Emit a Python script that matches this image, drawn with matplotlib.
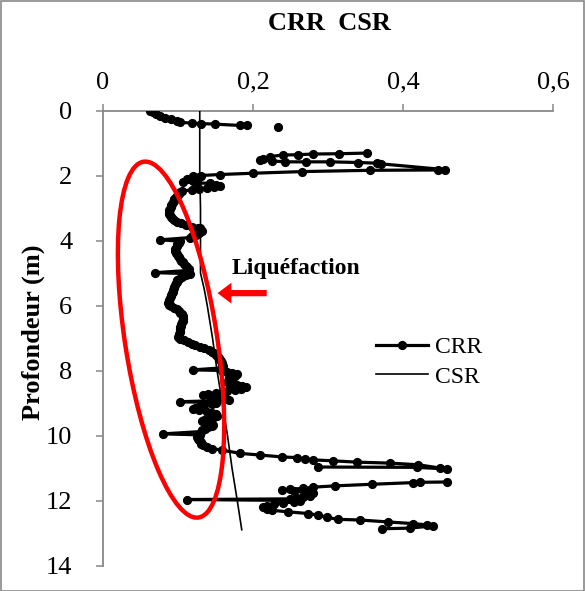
import numpy as np
import matplotlib
matplotlib.use("Agg")
import matplotlib.pyplot as plt
from matplotlib.patches import Ellipse, Rectangle

plt.rcParams['font.family'] = ['Liberation Serif', 'DejaVu Serif']

nan = np.nan
# CRR trace: values and depths (m); NaN marks gaps in the record
crr = [
    0.063, 0.066, 0.070, 0.076, 0.082, 0.090, 0.098, 0.103, 0.118, 0.130, 0.149, 0.183, 0.192,
    nan, 0.233, nan,
    0.352, 0.315, 0.280, 0.260, 0.240, 0.222, 0.213, 0.209, 0.225, 0.243, 0.270, 0.303, 0.340, 0.365, 0.370,
    0.456, 0.447, 0.356, 0.265, 0.200, 0.156,
    0.130, 0.120, 0.128, 0.118, 0.112, 0.120, 0.107, 0.125, 0.143, 0.150, 0.156, 0.148, 0.138, 0.128, 0.118,
    0.105, 0.103, 0.101, 0.099, 0.097, 0.095, 0.094, 0.093, 0.092, 0.091, 0.090, 0.089, 0.088, 0.088, 0.088,
    0.089, 0.090, 0.092, 0.095, 0.099, 0.104, 0.110, 0.118, 0.126,
    0.129, 0.131, 0.132, 0.128, 0.124, 0.119, 0.116, 0.076, 0.103, 0.101, 0.099, 0.098, 0.097, 0.096, 0.096,
    0.097, 0.099, 0.100, 0.101, 0.103, 0.104, 0.106, 0.108, 0.110, 0.112, 0.114, 0.115, 0.069, 0.116, 0.110,
    0.105, 0.101, 0.099, 0.098, 0.097, 0.096, 0.095, 0.094, 0.093, 0.093, 0.092, 0.091, 0.090, 0.089, 0.088,
    0.088, 0.087, 0.088, 0.091, 0.095, 0.099, 0.101, 0.103, 0.105, 0.106, 0.107, 0.107, 0.106, 0.105, 0.104,
    0.104, 0.103, 0.103, 0.102, 0.102, 0.101, 0.101, 0.100, 0.103, 0.108, 0.113, 0.118, 0.123, 0.129, 0.135,
    0.141, 0.145, 0.148, 0.151, 0.153, 0.155, 0.156, 0.157, 0.158, 0.159, 0.160, 0.158, 0.120,
    0.158, 0.165, 0.172, 0.178, 0.176, 0.171, 0.168, 0.172, 0.168, 0.165, 0.170, 0.178, 0.185, 0.190, 0.184,
    0.176, 0.165, 0.150, 0.140, 0.133, 0.142, 0.155, 0.163, 0.168, 0.103, 0.150, 0.145, 0.135, 0.128, 0.122,
    0.120, 0.128, 0.138, 0.145, 0.150, 0.152, 0.148, 0.140, 0.135, 0.132, 0.135, 0.142, 0.147, 0.145, 0.140,
    0.136, 0.132, 0.130, 0.080, 0.129, 0.127, 0.125, 0.126, 0.128, 0.130, 0.131, 0.133, 0.138, 0.145, 0.159,
    0.183, 0.209, 0.239, 0.259, 0.269, 0.280, 0.307, 0.339, 0.383, 0.420, 0.449, 0.459, 0.418, 0.287,
    nan,
    0.459, 0.423, 0.413, 0.359, 0.309, 0.280, 0.267, 0.249, 0.239, 0.255, 0.270, 0.280, 0.268, 0.276, 0.267,
    0.258, 0.249, 0.112, 0.262, 0.255, 0.240, 0.228, 0.218, 0.213, 0.218, 0.225, 0.247, 0.273, 0.287, 0.299,
    0.313, 0.343, 0.380, 0.413, 0.432, 0.440, 0.409, 0.372]
crr_depth = [
    0.00, 0.05, 0.10, 0.18, 0.22, 0.27, 0.31, 0.36, 0.39, 0.40, 0.42, 0.46, 0.45,
    nan, 0.50, nan,
    1.31, 1.33, 1.34, 1.36, 1.37, 1.42, 1.48, 1.52, 1.55, 1.58, 1.58, 1.58, 1.60, 1.62, 1.64,
    1.82, 1.83, 1.84, 1.88, 1.93, 1.97,
    2.00, 2.02, 2.05, 2.08, 2.12, 2.16, 2.20, 2.23, 2.24, 2.30, 2.33, 2.36, 2.39, 2.42, 2.45,
    2.47, 2.52, 2.57, 2.62, 2.67, 2.72, 2.77, 2.82, 2.87, 2.92, 2.97, 3.02, 3.07, 3.12, 3.17,
    3.22, 3.27, 3.32, 3.37, 3.42, 3.47, 3.52, 3.57, 3.60,
    3.62, 3.67, 3.72, 3.77, 3.82, 3.87, 3.91, 3.98, 4.02, 4.07, 4.12, 4.17, 4.22, 4.27, 4.32,
    4.37, 4.42, 4.47, 4.52, 4.57, 4.62, 4.67, 4.72, 4.77, 4.82, 4.87, 4.92, 4.99, 5.02, 5.07,
    5.12, 5.17, 5.22, 5.27, 5.32, 5.37, 5.42, 5.47, 5.52, 5.57, 5.62, 5.67, 5.72, 5.77, 5.82,
    5.87, 5.92, 5.97, 6.02, 6.07, 6.12, 6.17, 6.22, 6.27, 6.32, 6.37, 6.42, 6.47, 6.52, 6.57,
    6.62, 6.67, 6.72, 6.77, 6.82, 6.87, 6.92, 6.97, 7.02, 7.07, 7.12, 7.17, 7.22, 7.27, 7.32,
    7.37, 7.42, 7.47, 7.52, 7.57, 7.62, 7.67, 7.72, 7.77, 7.82, 7.87, 7.92, 7.98,
    8.00, 8.04, 8.08, 8.12, 8.16, 8.20, 8.24, 8.28, 8.32, 8.36, 8.40, 8.44, 8.48, 8.52, 8.56,
    8.60, 8.64, 8.68, 8.72, 8.76, 8.80, 8.84, 8.88, 8.92, 8.96, 8.99, 9.03, 9.07, 9.11, 9.15,
    9.19, 9.23, 9.27, 9.31, 9.35, 9.39, 9.43, 9.47, 9.51, 9.55, 9.59, 9.63, 9.67, 9.71, 9.75,
    9.79, 9.83, 9.88, 9.95, 9.98, 10.02, 10.06, 10.10, 10.15, 10.20, 10.25, 10.30, 10.35, 10.40, 10.45,
    10.55, 10.60, 10.66, 10.68, 10.73, 10.75, 10.78, 10.82, 10.85, 10.90, 11.00, 11.03, 10.98, 10.97,
    nan,
    11.43, 11.44, 11.45, 11.50, 11.55, 11.59, 11.63, 11.65, 11.68, 11.72, 11.75, 11.78, 11.82, 11.85, 11.88,
    11.92, 11.95, 11.97, 12.00, 12.04, 12.08, 12.12, 12.16, 12.20, 12.25, 12.30, 12.35, 12.40, 12.45, 12.52,
    12.58, 12.60, 12.66, 12.71, 12.75, 12.78, 12.85, 12.87]

csr = [0.129, 0.129, 0.129, 0.130, 0.130, 0.130, 0.135, 0.139, 0.146, 0.152, 0.159, 0.166, 0.172, 0.179, 0.185]
csr_depth = [0.0, 1.0, 2.0, 3.0, 4.0, 5.0, 5.5, 6.0, 7.0, 8.0, 9.0, 10.0, 11.0, 12.0, 12.9]

x_ticks = [0, 0.2, 0.4, 0.6]
x_ticklabels = ['0', '0,2', '0,4', '0,6']
y_ticks = [0, 2, 4, 6, 8, 10, 12, 14]

W, H = 585, 591
fig = plt.figure(figsize=(W / 100, H / 100), dpi=100)
ax = fig.add_axes([103 / W, 1 - 565.5 / H, 450 / W, 455 / H])

ax.plot(crr, crr_depth, color='black', lw=2.3, marker='o', ms=5.6, label='CRR', zorder=3)
ax.plot(csr, csr_depth, color='black', lw=1.2, label='CSR', zorder=4)

ax.set_xlim(0, 0.6)
ax.set_ylim(14, 0)
ax.xaxis.tick_top()
ax.set_xticks(x_ticks)
ax.set_xticklabels(x_ticklabels)
ax.set_yticks(y_ticks)
for s in ['right', 'bottom']:
    ax.spines[s].set_visible(False)
for s in ['left', 'top']:
    ax.spines[s].set_color('#888888')
    ax.spines[s].set_linewidth(1.3)
ax.tick_params(axis='both', direction='out', length=5, width=1.1, color='#888888',
               labelsize=19, labelcolor='black')
ax.tick_params(axis='x', pad=7)
ax.tick_params(axis='y', pad=17)

# red ellipse around liquefaction zone
cx, cy = ax.transData.transform((0.0907, 7.05))
ell = Ellipse((cx / 100, cy / 100), width=0.92, height=3.6, angle=8.8,
              transform=fig.dpi_scale_trans, fill=False, edgecolor='red', lw=3.2, zorder=5)
fig.patches.append(ell)

ax.annotate('', xy=(0.149, 5.62), xytext=(0.222, 5.62),
            arrowprops=dict(arrowstyle='simple,head_length=1.0,head_width=1.5,tail_width=0.45',
                            color='red', lw=0), zorder=6)
ax.text(0.172, 4.85, 'Liquéfaction', fontsize=17, fontweight='bold', ha='left', va='center')

leg = ax.legend(loc='center left', bbox_to_anchor=((376 - 103) / 450, (565.5 - 362) / 455),
                frameon=False, fontsize=17, handlelength=2.2, handletextpad=0.3,
                labelspacing=0.35, borderaxespad=0, borderpad=0)

fig.text(329 / W, 1 - 24 / H, 'CRR  CSR', fontsize=19, fontweight='bold', ha='center', va='center')
fig.text(33 / W, 1 - 332 / H, 'Profondeur (m)', fontsize=19, fontweight='bold',
         rotation=90, ha='center', va='center')

fig.patches.append(Rectangle((0.5 / W, 0.5 / H), 1 - 1.5 / W, 1 - 1.5 / H, transform=fig.transFigure,
                             fill=False, edgecolor='#888888', lw=1.2))

fig.savefig('out.png', dpi=100, facecolor='white')
